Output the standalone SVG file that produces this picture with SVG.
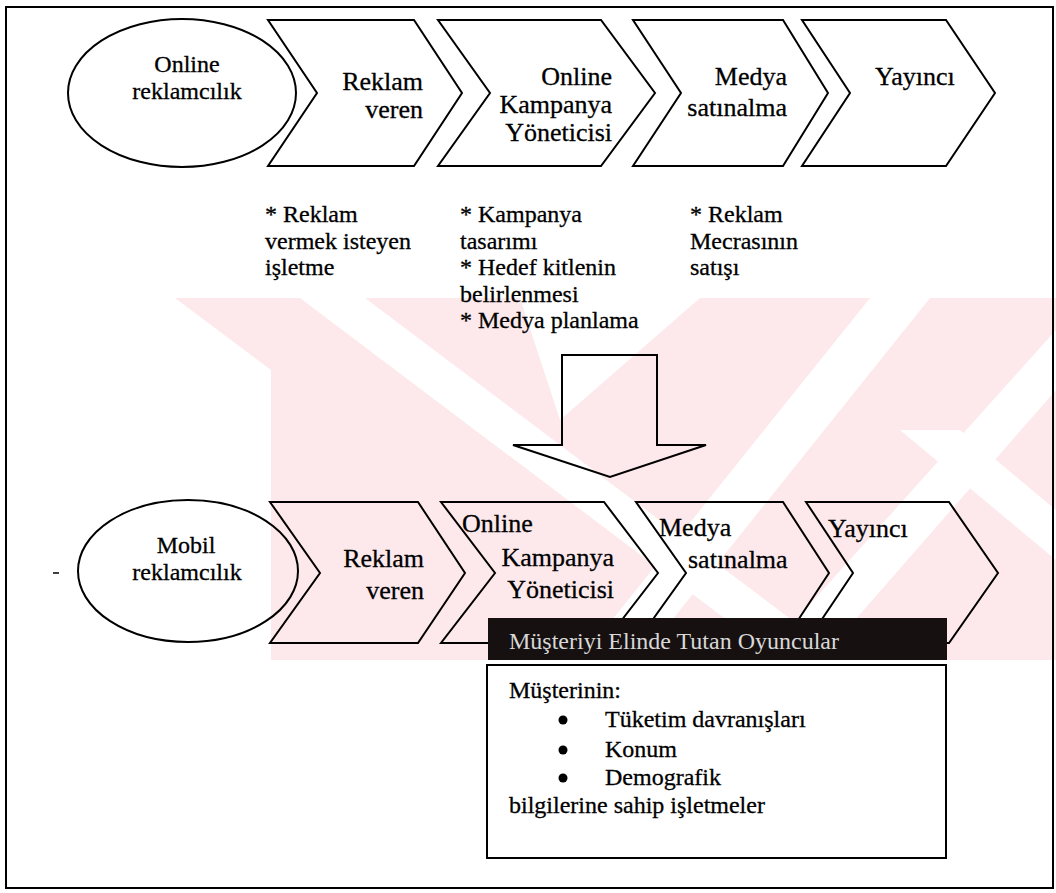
<svg xmlns="http://www.w3.org/2000/svg" width="1056" height="893" viewBox="0 0 1056 893">
<defs>
<style>
.s{fill:none;stroke:#000;stroke-width:2;stroke-linejoin:miter}
.t{font-family:"Liberation Serif","Times New Roman",serif;font-size:26px;fill:#000;stroke:#000;stroke-width:0.3}
.e{font-family:"Liberation Serif","Times New Roman",serif;font-size:24px;fill:#000;stroke:#000;stroke-width:0.3}
.n{font-family:"Liberation Serif","Times New Roman",serif;font-size:24px;fill:#000;stroke:#000;stroke-width:0.3}
.h{font-family:"Liberation Serif","Times New Roman",serif;font-size:24px;fill:#d8d8d8}
.r{text-anchor:end}
.c{text-anchor:middle}
.wm{fill:#fde9ec}
.wg{fill:#fff}
</style>
<clipPath id="wmclip"><rect x="150" y="298" width="906" height="362"/></clipPath>
</defs>
<rect x="0" y="0" width="1056" height="893" fill="#fff"/>
<g id="watermark" clip-path="url(#wmclip)">
<polygon class="wm" points="175,298 1056,298 1056,660 271,660 271,370"/>
<polygon class="wg" points="300,298 365,298 845,660 780,660"/>
<polygon class="wg" points="520,298 700,298 560,420"/>
<polygon class="wg" points="870,298 930,298 640,660 580,660"/>
<polygon class="wg" points="1056,330 1056,390 820,660 760,660"/>
<polygon class="wg" points="900,430 960,430 1056,510 1056,560"/>
</g>
<rect class="s" x="6" y="7" width="1047" height="881"/>
<g id="top-online">
<ellipse class="s" cx="182" cy="93" rx="114" ry="74"/>
<text class="e c" x="187" y="72">Online</text>
<text class="e c" x="187" y="99">reklamcılık</text>
</g>
<g id="top-reklamveren">
<polygon class="s" points="268,20 414,20 462,93 414,166 268,166 317,93"/>
<text class="t r" x="423" y="90">Reklam</text>
<text class="t r" x="423" y="118">veren</text>
</g>
<g id="top-kampanya">
<polygon class="s" points="438,20 601,20 655,93 601,166 438,166 490,93"/>
<text class="t r" x="612" y="85">Online</text>
<text class="t r" x="612" y="113">Kampanya</text>
<text class="t r" x="612" y="141">Yöneticisi</text>
</g>
<g id="top-medya">
<polygon class="s" points="633,20 783,20 828,93 783,166 633,166 681,93"/>
<text class="t r" x="787" y="85">Medya</text>
<text class="t r" x="787" y="116">satınalma</text>
</g>
<g id="top-yayinci">
<polygon class="s" points="802,20 946,20 995,93 946,166 802,166 850,93"/>
<text class="t" x="875" y="85">Yayıncı</text>
</g>
<g id="notes-reklamveren">
<text class="n" x="265" y="222">* Reklam</text>
<text class="n" x="265" y="248.5">vermek isteyen</text>
<text class="n" x="265" y="275">işletme</text>
</g>
<g id="notes-kampanya">
<text class="n" x="460" y="222">* Kampanya</text>
<text class="n" x="460" y="248.5">tasarımı</text>
<text class="n" x="460" y="275">* Hedef kitlenin</text>
<text class="n" x="460" y="301.5">belirlenmesi</text>
<text class="n" x="460" y="328">* Medya planlama</text>
</g>
<g id="notes-medya">
<text class="n" x="690" y="222">* Reklam</text>
<text class="n" x="690" y="248.5">Mecrasının</text>
<text class="n" x="690" y="275">satışı</text>
</g>
<g id="connectors">
<polygon class="s" points="562,355 657,355 657,445 706,445 610,477 513,445 562,445"/>
</g>
<g id="bottom-mobil">
<ellipse class="s" cx="188" cy="571" rx="110" ry="71"/>
<text class="e c" x="186" y="553">Mobil</text>
<text class="e c" x="187" y="580">reklamcılık</text>
</g>
<g id="bottom-reklamveren">
<polygon class="s" points="270,502 418,502 465,573 418,643 270,643 320,573"/>
<text class="t r" x="424" y="567">Reklam</text>
<text class="t r" x="424" y="599">veren</text>
</g>
<g id="bottom-kampanya">
<polygon class="s" points="441,502 604,502 658,573 604,643 441,643 495,573"/>
<text class="t" x="462" y="532">Online</text>
<text class="t r" x="614" y="566">Kampanya</text>
<text class="t r" x="614" y="598">Yöneticisi</text>
</g>
<g id="bottom-medya">
<polygon class="s" points="636,502 783,502 829,573 783,643 636,643 686,573"/>
<text class="t" x="659" y="536">Medya</text>
<text class="t" x="688" y="568">satınalma</text>
</g>
<g id="bottom-yayinci">
<polygon class="s" points="806,502 949,502 998,573 949,643 806,643 853,573"/>
<text class="t" x="828" y="537">Yayıncı</text>
</g>
<g id="oyuncular">
<rect x="488" y="618" width="459" height="42" fill="#161010"/>
<text class="h" x="509" y="649">Müşteriyi Elinde Tutan Oyuncular</text>
<rect x="487" y="665" width="459" height="193" fill="#fff" stroke="#000" stroke-width="2"/>
<text class="n" x="509" y="698">Müşterinin:</text>
<circle cx="563" cy="720" r="4.5"/>
<circle cx="563" cy="750" r="4.5"/>
<circle cx="563" cy="778" r="4.5"/>
<text class="n" x="605" y="727">Tüketim davranışları</text>
<text class="n" x="605" y="757">Konum</text>
<text class="n" x="605" y="785">Demografik</text>
<text class="n" x="509" y="813">bilgilerine sahip işletmeler</text>
</g>
<line x1="53" y1="573" x2="59" y2="573" stroke="#000" stroke-width="1.5"/>
</svg>
